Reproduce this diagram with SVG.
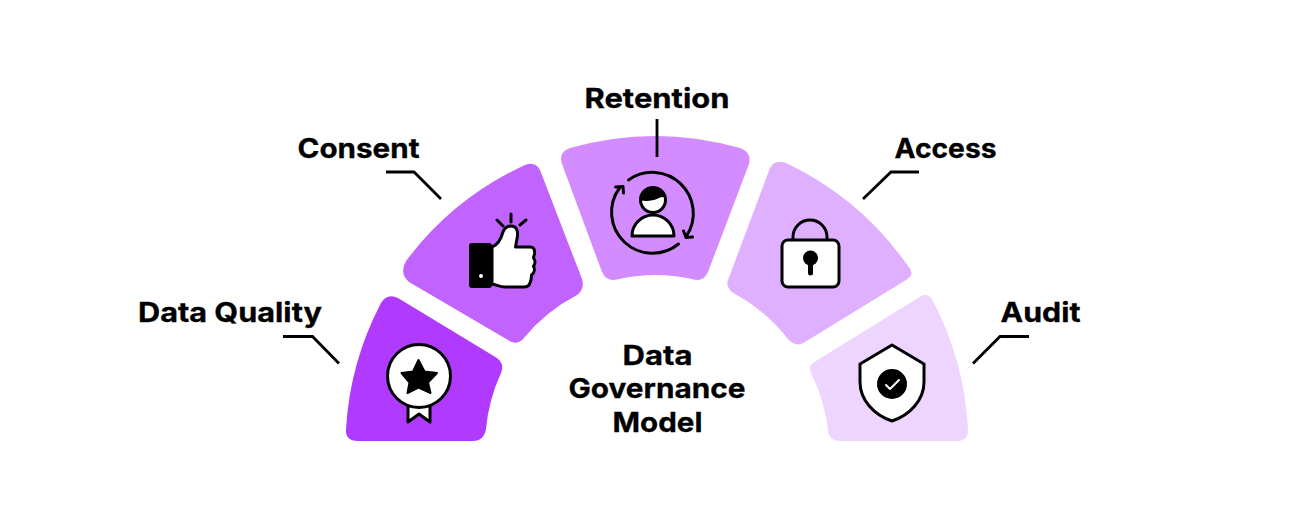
<svg xmlns="http://www.w3.org/2000/svg" width="1314" height="525" viewBox="0 0 1314 525">
<style>
text{font-family:"Inter","Liberation Sans",sans-serif;font-weight:700;font-size:27px;fill:#000;stroke:#000;stroke-width:.3}
.k{fill:none;stroke:#000;stroke-width:3;stroke-linecap:round;stroke-linejoin:round}
.w{fill:#fff;stroke:#000;stroke-width:3;stroke-linejoin:round;stroke-linecap:round}
.l{fill:none;stroke:#000;stroke-width:2.800}
</style>
<rect width="1314" height="525" fill="#fff"/>
<g id="node-data-quality">
<path fill="#B03BFF" d="M346 429A311 311 0 0 1 381 303Q387 293 398 298L497 358Q505 364 501 373A172 172 0 0 0 486 429Q484 441 473 441H358Q345 441 346 429Z"/>
<path class="w" d="M408 407V422L419 414L430 422V407"/>
<circle class="w" cx="419" cy="376" r="31.500"/>
<path fill="#000" stroke="#000" stroke-width="2" stroke-linejoin="round" d="M418.500 360L424.500 371.500L437 373L428 382.500L430.500 393L418.500 387.500L407.500 393L409.500 382.500L401.500 373L413 371.500Z"/>
<text x="138" y="322" textLength="184" lengthAdjust="spacingAndGlyphs">Data Quality</text>
</g>
<g id="node-consent">
<path fill="#C063FF" d="M406 261A311 311 0 0 1 525 165Q535 161 540 170L582 279Q585 289 577 295A172 172 0 0 0 523 339Q516 346 508 340L409 282Q399 274 406 261Z"/>
<rect x="469" y="243" width="23" height="45" rx="3" fill="#000"/>
<circle cx="481" cy="276" r="2" fill="#fff"/>
<path class="w" d="M492 247C498 245 501 239 503 232C505 227 508 226 511 226C516 226 518 230 517.500 236L515.500 247H530C534 247 535 250 534.500 254C534 256 533.500 257 533.500 258C535.500 260 535.500 264 533.500 266C535 269 534.500 273 531.500 275C531.500 278 531 281 530 283C529 286 527 287 524 287H505C500 287 497 285 492 284Z"/>
<path class="k" d="M497 220L503 226M511 214V222M526 220L520 225"/>
<text x="297.500" y="157.500" textLength="122" lengthAdjust="spacingAndGlyphs">Consent</text>
</g>
<g id="node-retention">
<path fill="#D28CFF" d="M570 148A311 311 0 0 1 740 148Q752 152 749 164L708 272Q703 283 692 279A172 172 0 0 0 619 279Q607 283 602 272L562 164Q558 152 570 148Z"/>
<path class="k" d="M628.500 180A41 41 0 0 1 686.500 236M683.500 231L686 237.500L692.500 237"/>
<path class="k" d="M678.500 244A41 41 0 0 1 619.500 188M615.500 187L623 186.500L623.500 193"/>
<circle class="w" cx="653" cy="200" r="12.500"/>
<path fill="#000" d="M640.500 200.500A12.500 12.500 0 0 1 665.500 198C660.500 194 657.500 203 640.500 200.500Z"/>
<path class="w" d="M632 236A21 21 0 0 1 674 236Z"/>
<text x="584.500" y="108" textLength="145" lengthAdjust="spacingAndGlyphs">Retention</text>
</g>
<g id="node-access">
<path fill="#DFB0FF" d="M770 168Q775 159 786 163A311 311 0 0 1 908 266Q916 274 906 280L805 342Q796 348 788 339A172 172 0 0 0 735 294Q725 288 728 280Z"/>
<path class="k" d="M793 240V237A17 17 0 0 1 827 237V240"/>
<rect class="w" x="782" y="240" width="57" height="47" rx="6"/>
<circle cx="810.500" cy="258" r="7.500" fill="#000"/>
<path d="M810.500 258V273" stroke="#000" stroke-width="5" stroke-linecap="round"/>
<text x="894.500" y="157.500" textLength="102" lengthAdjust="spacingAndGlyphs">Access</text>
</g>
<g id="node-audit">
<path fill="#EED5FF" d="M816 361L918 298Q927 291 933 301A311 311 0 0 1 968 429Q969 441 957 441H840Q829 441 828 430A172 172 0 0 0 811 373Q807 365 816 361Z"/>
<path class="w" d="M892 345L924 364V382C924 400 910 415 892 421C874 415 860 400 860 382V364Z"/>
<circle cx="892" cy="384" r="15" fill="#000"/>
<path d="M886 385L890 389L899 380" fill="none" stroke="#fff" stroke-width="2" stroke-linecap="round" stroke-linejoin="round"/>
<text x="1000.500" y="322" textLength="80" lengthAdjust="spacingAndGlyphs">Audit</text>
</g>
<g id="node-center">
<text x="622.500" y="365" textLength="70" lengthAdjust="spacingAndGlyphs">Data</text>
<text x="568.500" y="398" textLength="177" lengthAdjust="spacingAndGlyphs">Governance</text>
<text x="612.500" y="432" textLength="90" lengthAdjust="spacingAndGlyphs">Model</text>
</g>
<g id="connectors">
<path class="l" d="M283 336.500H312.500L339 363.500"/>
<path class="l" d="M386 172H414L441 199"/>
<path class="l" d="M657 119V157"/>
<path class="l" d="M919 172H891L863 199"/>
<path class="l" d="M1029 336.500H1000L973 363.500"/>
</g>
</svg>
